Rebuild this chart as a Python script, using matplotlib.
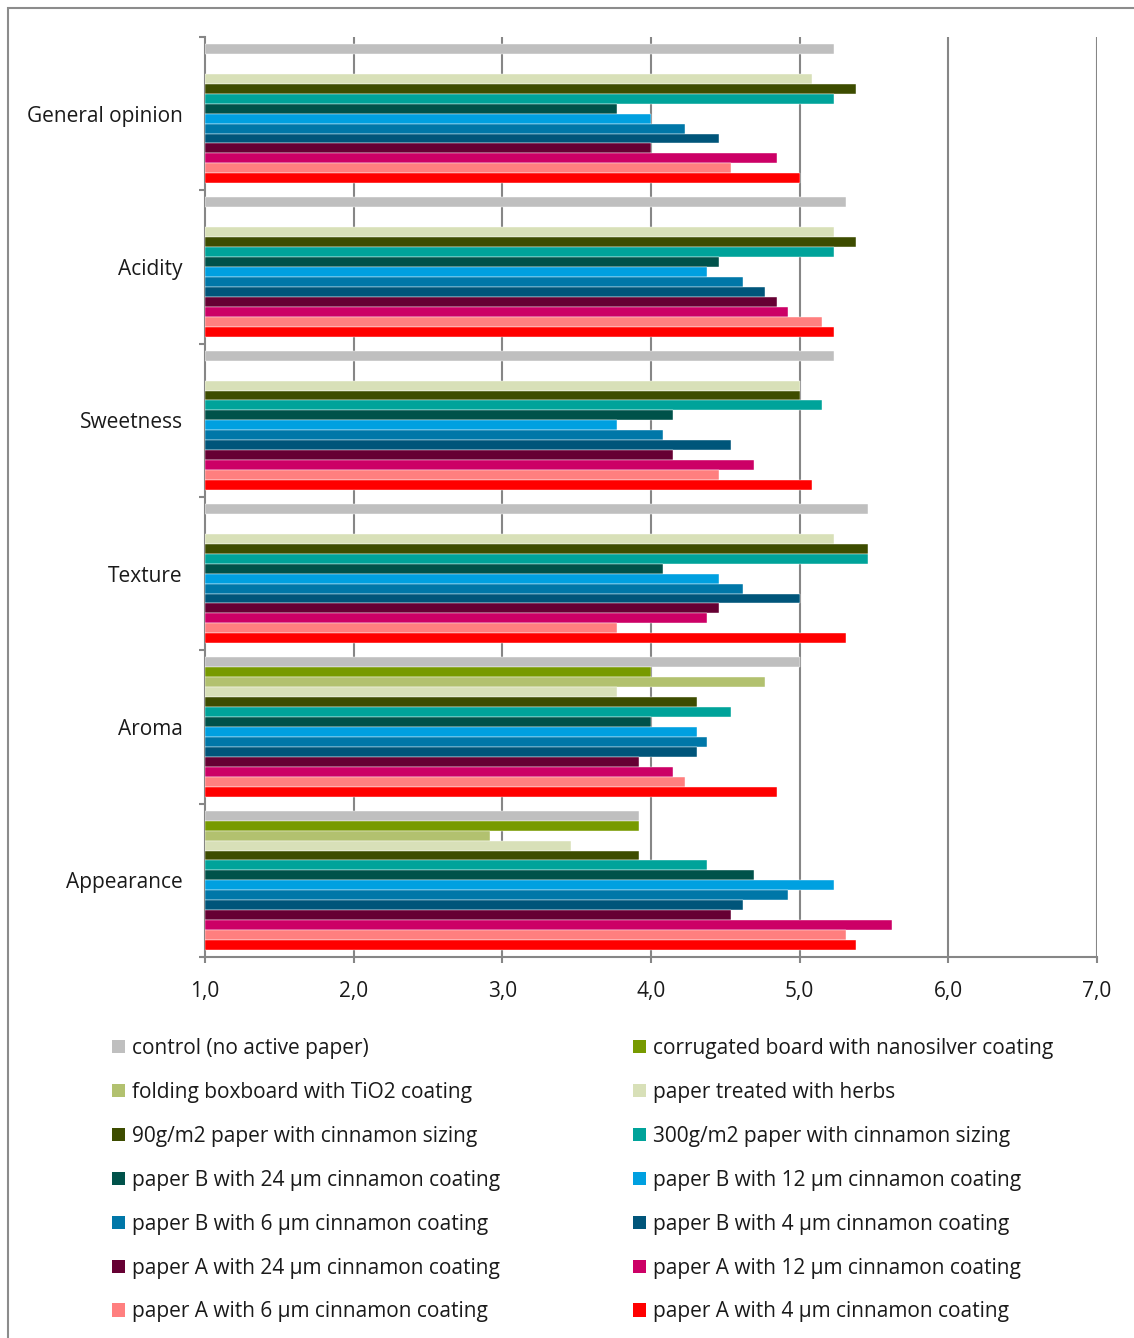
import numpy as np
import matplotlib
matplotlib.use("Agg")
import matplotlib.pyplot as plt
from matplotlib.patches import Patch, Rectangle

plt.rcParams['font.family'] = ['Open Sans', 'DejaVu Sans']

categories = ["Appearance", "Aroma", "Texture", "Sweetness", "Acidity", "General opinion"]

series_names = [
    "control (no active paper)",
    "corrugated board with nanosilver coating",
    "folding boxboard with TiO2 coating",
    "paper treated with herbs",
    "90g/m2 paper with cinnamon sizing",
    "300g/m2 paper with cinnamon sizing",
    "paper B with 24 µm cinnamon coating",
    "paper B with 12 µm cinnamon coating",
    "paper B with 6 µm cinnamon coating",
    "paper B with 4 µm cinnamon coating",
    "paper A with 24 µm cinnamon coating",
    "paper A with 12 µm cinnamon coating",
    "paper A with 6 µm cinnamon coating",
    "paper A with 4 µm cinnamon coating",
]

series_colors = [
    "#BFBFBF", "#779A00", "#B2C16F", "#D8E0B8", "#3D4C00", "#00A39A", "#00524A",
    "#00A0E0", "#0077A8", "#00557A", "#660033", "#CC0066", "#FF7F7F", "#FF0000",
]

nan = np.nan
# Scores per attribute, in category order: Appearance, Aroma, Texture, Sweetness, Acidity, General opinion
control      = [3.92, 5.00, 5.46, 5.23, 5.31, 5.23]
corrugated   = [3.92, 4.00, nan,  nan,  nan,  nan]
folding      = [2.92, 4.77, nan,  nan,  nan,  nan]
herbs        = [3.46, 3.77, 5.23, 5.00, 5.23, 5.08]
sizing_90    = [3.92, 4.31, 5.46, 5.00, 5.38, 5.38]
sizing_300   = [4.38, 4.54, 5.46, 5.15, 5.23, 5.23]
paper_b_24   = [4.69, 4.00, 4.08, 4.15, 4.46, 3.77]
paper_b_12   = [5.23, 4.31, 4.46, 3.77, 4.38, 4.00]
paper_b_6    = [4.92, 4.38, 4.62, 4.08, 4.62, 4.23]
paper_b_4    = [4.62, 4.31, 5.00, 4.54, 4.77, 4.46]
paper_a_24   = [4.54, 3.92, 4.46, 4.15, 4.85, 4.00]
paper_a_12   = [5.62, 4.15, 4.38, 4.69, 4.92, 4.85]
paper_a_6    = [5.31, 4.23, 3.77, 4.46, 5.15, 4.54]
paper_a_4    = [5.38, 4.85, 5.31, 5.08, 5.23, 5.00]

series_values = [control, corrugated, folding, herbs, sizing_90, sizing_300,
                 paper_b_24, paper_b_12, paper_b_6, paper_b_4,
                 paper_a_24, paper_a_12, paper_a_6, paper_a_4]

x_ticks = [1, 2, 3, 4, 5, 6, 7]
x_tick_labels = ["1,0", "2,0", "3,0", "4,0", "5,0", "6,0", "7,0"]

W, H = 1134, 1338
fig = plt.figure(figsize=(W / 100, H / 100), dpi=100)

# outer frame
fig.patches.append(Rectangle((8 / W, -0.01), 1.1, 1 - 8 / H + 0.01, transform=fig.transFigure,
                             fill=False, edgecolor="#8C8C8C", linewidth=1.5, zorder=0))

ax = fig.add_axes([205 / W, 1 - 957 / H, (1097 - 205) / W, (957 - 37) / H])

n = len(series_values)
bar_h = 0.0648
y_base = np.arange(len(categories))
base = 1.0
for i, (vals, col) in enumerate(zip(series_values, series_colors)):
    v = np.array(vals, dtype=float)
    ok = ~np.isnan(v)
    y = y_base + (n / 2 - 0.5 - i) * bar_h
    ax.barh(y[ok], v[ok] - base, left=base, height=bar_h, color=col,
            edgecolor="white", linewidth=0.3, zorder=3)

ax.set_xlim(1, 7)
ax.set_ylim(-0.5, len(categories) - 0.5)

grid_c = "#868686"
text_c = "#1a1a1a"
fs = 15
ax.set_xticks(x_ticks)
ax.set_xticklabels(x_tick_labels, fontsize=fs, color=text_c)
ax.tick_params(axis="x", direction="out", length=4.5, width=1.5, color=grid_c, pad=13)
for xv in x_ticks[1:]:
    ax.axvline(xv, color=grid_c, linewidth=1.5, zorder=1)

ax.set_yticks(y_base)
ax.set_yticklabels(categories, fontsize=fs, color=text_c)
ax.set_yticks(np.arange(len(categories) + 1) - 0.5, minor=True)
ax.tick_params(axis="y", which="major", length=0, pad=16)
ax.tick_params(axis="y", which="minor", direction="out", length=4.5, width=1.5, color=grid_c)

for s in ["top", "right"]:
    ax.spines[s].set_visible(False)
for s in ["left", "bottom"]:
    ax.spines[s].set_color(grid_c)
    ax.spines[s].set_linewidth(1.5)

handles = [Patch(facecolor=c, edgecolor="none") for c in series_colors]
left_idx = list(range(0, n, 2))
right_idx = list(range(1, n, 2))
leg_kw = dict(frameon=False, fontsize=fs, handlelength=0.62, handleheight=0.62,
              handletextpad=0.35, labelspacing=1.1, borderaxespad=0, borderpad=0,
              loc="upper left")
leg1 = fig.legend([handles[i] for i in left_idx], [series_names[i] for i in left_idx],
                  bbox_to_anchor=(112 / W, 1 - 1038 / H), **leg_kw)
leg2 = fig.legend([handles[i] for i in right_idx], [series_names[i] for i in right_idx],
                  bbox_to_anchor=(633 / W, 1 - 1038 / H), **leg_kw)
for lg in (leg1, leg2):
    for t in lg.get_texts():
        t.set_color(text_c)

fig.savefig("out.png", dpi=100)
